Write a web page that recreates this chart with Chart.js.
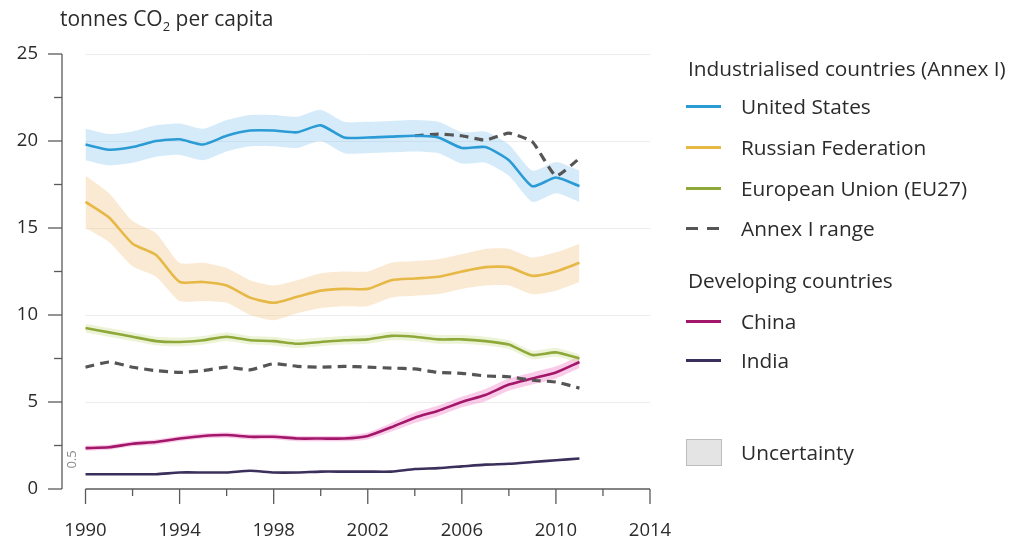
<!DOCTYPE html>
<html>
<head>
<meta charset="utf-8">
<script src="https://cdn.jsdelivr.net/npm/chart.js@4/dist/chart.umd.min.js"></script>
<style>
  html, body { margin:0; padding:0; background:#fff; }
  #wrap { position:relative; width:1025px; height:543px; font-family:"Open Sans", sans-serif; color:#2b2b2b; }
  canvas { position:absolute; left:0; top:0; }
  .t { position:absolute; white-space:nowrap; font-size:20.8px; color:#2b2b2b; }
  .sw { position:absolute; left:686px; width:35px; height:3px; }
  .dash { position:absolute; left:686px; width:12px; height:3px; background:#555; }
</style>
</head>
<body>
<div id="wrap">
  <canvas id="c" width="1025" height="543"></canvas>
  <div class="t" style="left:60px; top:4px; font-size:21px;">tonnes CO<sub style="font-size:13px; vertical-align:-5px;">2</sub> per capita</div>

  <div class="t" style="left:688px; top:54px;">Industrialised countries (Annex I)</div>
  <div class="sw" style="top:105px; background:#2a9bd5;"></div>
  <div class="t" style="left:741px; top:92px;">United States</div>
  <div class="sw" style="top:146px; background:#e6b845;"></div>
  <div class="t" style="left:741px; top:133px;">Russian Federation</div>
  <div class="sw" style="top:187px; background:#8fa83a;"></div>
  <div class="t" style="left:741px; top:174px;">European Union (EU27)</div>
  <div class="dash" style="top:227px;"></div>
  <div class="dash" style="top:227px; left:707px;"></div>
  <div class="t" style="left:741px; top:214px;">Annex I range</div>

  <div class="t" style="left:688px; top:266px;">Developing countries</div>
  <div class="sw" style="top:320px; background:#a3176a;"></div>
  <div class="t" style="left:741px; top:307px;">China</div>
  <div class="sw" style="top:359px; background:#3b2f5c;"></div>
  <div class="t" style="left:741px; top:346px;">India</div>

  <div style="position:absolute; left:686px; top:439px; width:34px; height:25px; background:#e4e4e4; border:1px solid #bdbdbd;"></div>
  <div class="t" style="left:741px; top:438px;">Uncertainty</div>
</div>
<script>
// ---- data ----
const years = [1990,1991,1992,1993,1994,1995,1996,1997,1998,1999,2000,2001,2002,2003,2004,2005,2006,2007,2008,2009,2010,2011];
const xTickLabels = [1990,1994,1998,2002,2006,2010,2014];
const yTickLabels = [0,5,10,15,20,25];

const usValues = [19.8,19.5,19.65,20.0,20.1,19.8,20.3,20.6,20.6,20.5,20.9,20.2,20.2,20.25,20.3,20.2,19.6,19.65,18.9,17.4,17.9,17.4];
const usHigh   = [20.7,20.4,20.55,20.9,21.0,20.7,21.2,21.5,21.5,21.4,21.8,21.1,21.1,21.15,21.2,21.1,20.5,20.55,19.8,18.3,18.8,18.3];
const usLow    = [18.9,18.6,18.75,19.1,19.2,18.9,19.4,19.7,19.7,19.6,20.0,19.3,19.3,19.35,19.4,19.3,18.7,18.75,18.0,16.5,17.0,16.5];

const ruValues = [16.5,15.6,14.1,13.45,11.9,11.9,11.7,11.0,10.7,11.05,11.4,11.5,11.5,12.0,12.1,12.2,12.5,12.75,12.75,12.25,12.5,13.0];
const ruHigh   = [18.0,17.0,15.4,14.7,13.0,13.0,12.7,12.0,11.7,12.0,12.4,12.5,12.5,13.0,13.1,13.2,13.5,13.8,13.8,13.3,13.6,14.1];
const ruLow    = [15.0,14.2,12.8,12.2,10.8,10.8,10.7,10.0,9.7,10.1,10.4,10.5,10.5,11.0,11.1,11.2,11.5,11.7,11.7,11.2,11.4,11.9];

const euValues = [9.25,9.0,8.75,8.5,8.45,8.55,8.75,8.55,8.5,8.35,8.45,8.55,8.6,8.8,8.75,8.6,8.6,8.5,8.3,7.7,7.85,7.5];
const euHigh   = [9.5,9.25,9.0,8.75,8.7,8.8,9.0,8.8,8.75,8.6,8.7,8.8,8.85,9.05,9.0,8.85,8.85,8.75,8.55,7.95,8.1,7.75];
const euLow    = [9.0,8.75,8.5,8.25,8.2,8.3,8.5,8.3,8.25,8.1,8.2,8.3,8.35,8.55,8.5,8.35,8.35,8.25,8.05,7.45,7.6,7.25];

const cnValues = [2.35,2.4,2.6,2.7,2.9,3.05,3.1,3.0,3.0,2.9,2.9,2.9,3.05,3.55,4.1,4.5,5.0,5.4,6.0,6.35,6.7,7.3];
const cnHigh   = [2.5,2.55,2.75,2.85,3.05,3.2,3.25,3.15,3.15,3.05,3.05,3.05,3.25,3.8,4.4,4.8,5.3,5.75,6.35,6.7,7.05,7.65];
const cnLow    = [2.2,2.25,2.45,2.55,2.75,2.9,2.95,2.85,2.85,2.75,2.75,2.75,2.85,3.3,3.8,4.2,4.7,5.05,5.65,6.0,6.35,6.95];

const inValues = [0.85,0.85,0.85,0.85,0.95,0.95,0.95,1.05,0.95,0.95,1.0,1.0,1.0,1.0,1.15,1.2,1.3,1.4,1.45,1.55,1.65,1.75];

const annexHigh = [null,null,null,null,null,null,null,null,null,null,null,null,null,null,20.3,20.4,20.3,20.05,20.45,19.95,18.0,19.0];
const annexLow  = [7.0,7.3,7.0,6.8,6.7,6.8,7.0,6.85,7.2,7.05,7.0,7.05,7.0,6.95,6.9,6.7,6.65,6.5,6.45,6.25,6.15,5.8];

// ---- helpers ----
const pts = vals => years.map((yr, i) => ({x: yr, y: vals[i]}));
const line = (label, vals, color, extra) => Object.assign({
  label, data: pts(vals), borderColor: color, borderWidth: 2.6, pointRadius: 0,
  fill: false, tension: 0.2, order: 1, spanGaps: false
}, extra || {});
const bandTop = (vals, color) => ({
  label: 'band', data: pts(vals), borderColor: 'rgba(0,0,0,0)', borderWidth: 0, pointRadius: 0,
  backgroundColor: color, fill: '+1', tension: 0.2, order: 5
});
const bandBot = vals => ({
  label: 'band', data: pts(vals), borderColor: 'rgba(0,0,0,0)', borderWidth: 0, pointRadius: 0,
  fill: false, tension: 0.2, order: 5
});

const axesPlugin = {
  id: 'axesDraw',
  beforeDatasetsDraw(chart) {
    const {ctx, scales: {x, y}} = chart;
    ctx.save();
    ctx.strokeStyle = '#ececec';
    ctx.lineWidth = 1;
    yTickLabels.forEach(v => {
      if (v === 0) return;
      const py = Math.round(y.getPixelForValue(v)) + 0.5;
      ctx.beginPath();
      ctx.moveTo(x.getPixelForValue(1990), py);
      ctx.lineTo(x.getPixelForValue(2014), py);
      ctx.stroke();
    });
    ctx.restore();
  },
  afterDraw(chart) {
    const {ctx, scales: {x, y}} = chart;
    ctx.save();
    ctx.strokeStyle = '#5a5a5a';
    ctx.lineWidth = 1.3;
    // y axis
    const ax = x.getPixelForValue(1989);
    ctx.beginPath();
    ctx.moveTo(ax, y.getPixelForValue(0));
    ctx.lineTo(ax, y.getPixelForValue(25));
    ctx.stroke();
    for (let v = 0; v <= 25; v += 2.5) {
      const py = y.getPixelForValue(v);
      const len = (v % 5 === 0) ? 14 : 8;
      ctx.beginPath();
      ctx.moveTo(ax - len, py);
      ctx.lineTo(ax, py);
      ctx.stroke();
    }
    // x axis
    const ay = y.getPixelForValue(0);
    ctx.beginPath();
    ctx.moveTo(x.getPixelForValue(1990), ay);
    ctx.lineTo(x.getPixelForValue(2014), ay);
    ctx.stroke();
    for (let yr = 1990; yr <= 2014; yr += 2) {
      const px = x.getPixelForValue(yr);
      const len = ((yr - 1990) % 4 === 0) ? 15 : 7;
      ctx.beginPath();
      ctx.moveTo(px, ay);
      ctx.lineTo(px, ay + len);
      ctx.stroke();
    }
    // small axis-break mark near the bottom of the y axis
    ctx.fillStyle = '#8a8a8a';
    ctx.font = '13px "Open Sans"';
    ctx.translate(ax + 10, y.getPixelForValue(1.7));
    ctx.rotate(-Math.PI / 2);
    ctx.textAlign = 'center';
    ctx.textBaseline = 'middle';
    ctx.fillText('0.5', 0, 0);
    ctx.restore();
  }
};

new Chart(document.getElementById('c'), {
  type: 'line',
  data: {
    datasets: [
      line('United States', usValues, '#2a9bd5'),
      line('Annex I range high', annexHigh, '#555555', {borderDash: [9, 6], borderWidth: 3.2, tension: 0.15}),
      line('Russian Federation', ruValues, '#e6b845'),
      line('European Union (EU27)', euValues, '#8fa83a'),
      line('Annex I range low', annexLow, '#555555', {borderDash: [9, 6], borderWidth: 3.2, tension: 0.15}),
      line('China', cnValues, '#a3176a'),
      line('India', inValues, '#3b2f5c'),
      bandTop(usHigh, 'rgba(140,200,240,0.36)'), bandBot(usLow),
      bandTop(ruHigh, 'rgba(246,205,150,0.42)'), bandBot(ruLow),
      bandTop(euHigh, 'rgba(200,220,140,0.35)'), bandBot(euLow),
      bandTop(cnHigh, 'rgba(240,130,200,0.40)'), bandBot(cnLow)
    ]
  },
  options: {
    responsive: false,
    animation: false,
    layout: { padding: { left: 0, right: 375, top: 54, bottom: 0 } },
    plugins: { legend: { display: false }, tooltip: { enabled: false } },
    scales: {
      x: {
        type: 'linear', min: 1989, max: 2014,
        afterBuildTicks: s => { s.ticks = xTickLabels.map(v => ({value: v})); },
        afterFit: s => { s.height = 54; },
        grid: { display: false }, border: { display: false },
        ticks: { padding: 23, color: '#2b2b2b', font: { family: 'Open Sans', size: 18.5 }, maxRotation: 0, callback: v => String(v) }
      },
      y: {
        min: 0, max: 25,
        afterBuildTicks: s => { s.ticks = yTickLabels.map(v => ({value: v})); },
        afterFit: s => { s.width = 62; },
        grid: { display: false }, border: { display: false },
        ticks: { padding: 16, color: '#2b2b2b', font: { family: 'Open Sans', size: 18.5 } }
      }
    }
  },
  plugins: [axesPlugin]
});
</script>
</body>
</html>
